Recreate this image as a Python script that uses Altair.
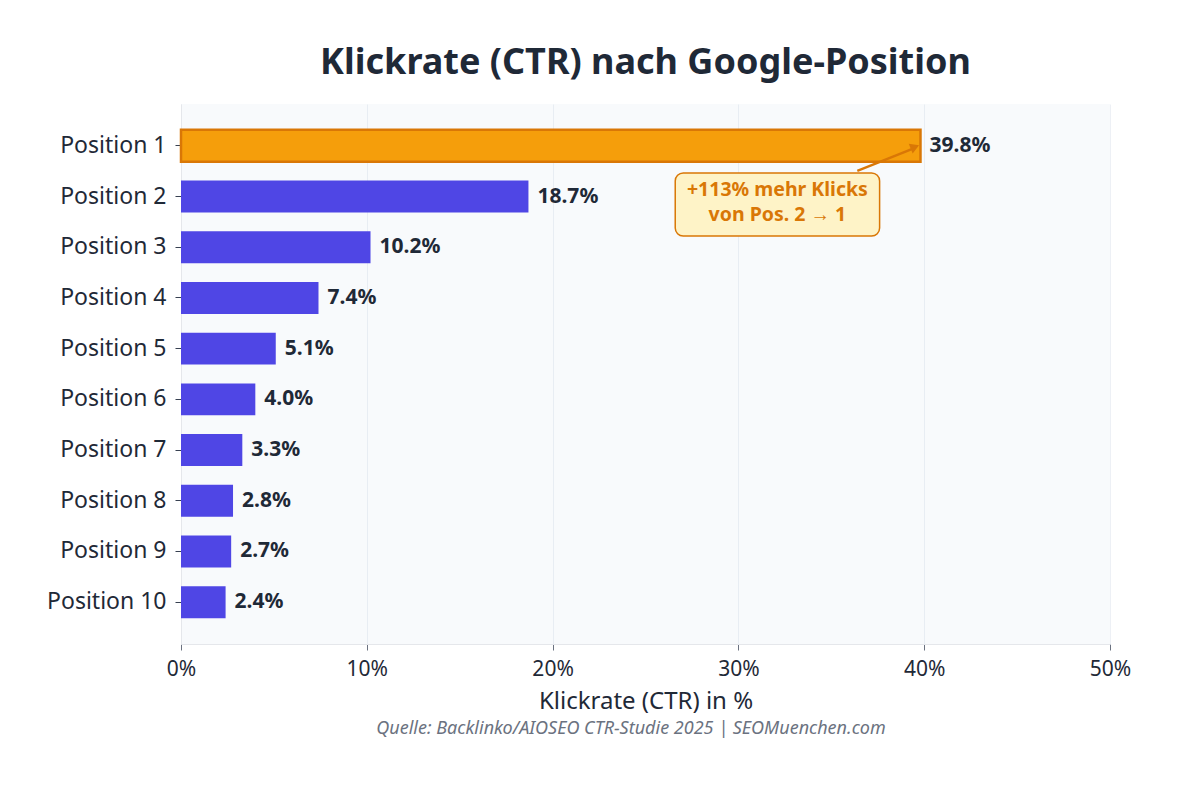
import altair as alt
import pandas as pd

positions = [f"Position {i}" for i in range(1, 11)]
ctr = [39.8, 18.7, 10.2, 7.4, 5.1, 4.0, 3.3, 2.8, 2.7, 2.4]
highlight = [True] + [False] * 9
labels = [f"{v:.1f}%" for v in ctr]

title_text = "Klickrate (CTR) nach Google-Position"
x_title = "Klickrate (CTR) in %"
source_text = "Quelle: Backlinko/AIOSEO CTR-Studie 2025 | SEOMuenchen.com"
annot_lines = ["+113% mehr Klicks", "von Pos. 2 \u2192 1"]

FONT = "Noto Sans"
W, H = 929, 540

df = pd.DataFrame({"pos": positions, "ctr": ctr, "hl": highlight, "label": labels})

y_enc = alt.Y("pos:N", sort=positions, title=None,
              scale=alt.Scale(paddingInner=0.37, paddingOuter=0.51))
x_scale = alt.Scale(domain=[0, 50], nice=False)

bars = alt.Chart(df).mark_bar(strokeWidth=2.5).encode(
    x=alt.X("ctr:Q", scale=x_scale, title=x_title,
            axis=alt.Axis(values=[0, 10, 20, 30, 40, 50], labelExpr="datum.value + '%'")),
    y=y_enc,
    color=alt.condition("datum.hl", alt.value("#F59E0B"), alt.value("#4F46E5")),
    stroke=alt.condition("datum.hl", alt.value("#D97706"), alt.value(None)),
)

vals = alt.Chart(df).mark_text(align="left", baseline="middle", dx=9, font=FONT,
                               fontSize=21, fontWeight="bold", color="#1F2937").encode(
    x=alt.X("ctr:Q", scale=x_scale), y=y_enc, text="label:N")

# annotation box
ann = pd.DataFrame({"pos": ["Position 2"], "x1": [26.6], "x2": [37.6], "xc": [32.1],
                    "l1": [annot_lines[0]], "l2": [annot_lines[1]]})
box = alt.Chart(ann).mark_rect(fill="#FEF3C7", stroke="#D97706", strokeWidth=1.5,
                               cornerRadius=8).encode(
    x=alt.X("x1:Q", scale=x_scale), x2="x2:Q", y=alt.value(69), y2=alt.value(132))
t1 = alt.Chart(ann).mark_text(font=FONT, fontSize=19.5, fontWeight="bold", color="#D97706",
                              baseline="middle", dy=-7).encode(
    x=alt.X("xc:Q", scale=x_scale), y=y_enc, text="l1:N")
t2 = alt.Chart(ann).mark_text(font=FONT, fontSize=19.5, fontWeight="bold", color="#D97706",
                              baseline="middle", dy=18).encode(
    x=alt.X("xc:Q", scale=x_scale), y=y_enc, text="l2:N")

arr = pd.DataFrame({"pos": ["Position 1"], "xa": [36.4], "xb": [39.5]})
arrow_line = alt.Chart(arr).mark_rule(color="#D97706", strokeWidth=2.5, yOffset=25, y2Offset=2).encode(
    x=alt.X("xa:Q", scale=x_scale), x2="xb:Q", y=y_enc, y2="pos:N")
arrow_head = alt.Chart(arr).mark_point(shape="triangle-right", filled=True, size=110,
                                       color="#D97706", opacity=1, angle=338, yOffset=1).encode(
    x=alt.X("xb:Q", scale=x_scale), y=y_enc)

src = alt.Chart(pd.DataFrame({"t": [source_text]})).mark_text(
    font=FONT, fontSize=18, fontStyle="italic", color="#6B7280", baseline="middle").encode(
    x=alt.value(450), y=alt.value(625), text="t:N")

chart = alt.layer(bars, vals, box, t1, t2, arrow_line, arrow_head, src).properties(
    width=W, height=H,
    title=alt.Title(title_text, font=FONT, fontSize=36, fontWeight="bold", color="#1F2937",
                    anchor="middle", offset=22),
    autosize=alt.AutoSizeParams(type="none"),
    padding={"left": 173, "top": 96, "right": 58, "bottom": 125},
).configure(background="white").configure_view(fill="#F8FAFC", stroke=None).configure_axis(
    labelFont=FONT, titleFont=FONT, labelColor="#1F2937", titleColor="#1F2937",
    domainColor="#E5E7EB", tickColor="#6B7280", gridColor="#CBD5E1", gridOpacity=0.35,
    zindex=1,
).configure_axisX(labelFontSize=21, titleFontSize=24, titleFontWeight="normal",
                  labelPadding=8, titlePadding=10, grid=True, tickSize=6, labelFlush=False
).configure_axisY(labelFontSize=23, labelPadding=9, grid=False, tickSize=6,
                  domainColor="#E5E7EB", tickColor="#374151"
)

chart.save("out.html", embed_options={"renderer": "svg", "actions": False})
